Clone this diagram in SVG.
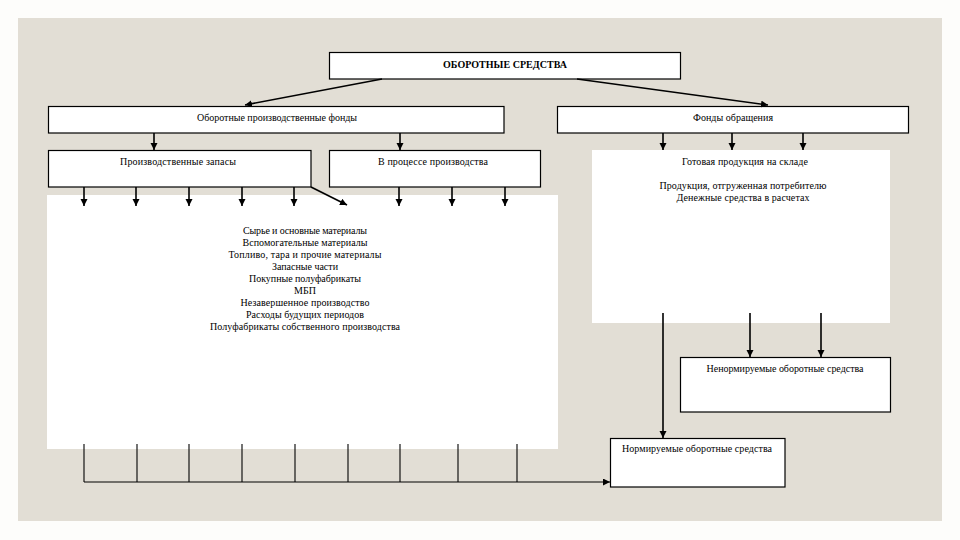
<svg xmlns="http://www.w3.org/2000/svg" width="960" height="540" viewBox="0 0 960 540">
<style>
.box{fill:#ffffff;stroke:#000000;stroke-width:1.2}
.area{fill:#ffffff;stroke:none}
.t{font-family:"Liberation Serif","DejaVu Serif",serif;font-size:10px;fill:#000000;text-anchor:middle}
.b{font-weight:bold}
.c{stroke:#000000;stroke-width:1.6;fill:none}
.thin{stroke:#000000;stroke-width:1.1;fill:none}
</style>
<defs>
<marker id="ah" markerUnits="userSpaceOnUse" markerWidth="8" markerHeight="8" refX="7" refY="3.5" orient="auto">
<path d="M0,0 L7,3.5 L0,7 z" fill="#000000"/>
</marker>
</defs>
<rect x="0" y="0" width="960" height="540" fill="#fdfdfb"/>
<rect x="18" y="18" width="924" height="503" fill="#e2ded5"/>

<g id="node-main">
<rect class="box" x="329.5" y="52.5" width="351" height="26.5"/>
<text class="t b" x="505" y="67.5" textLength="124">ОБОРОТНЫЕ СРЕДСТВА</text>
</g>
<g id="node-prod-funds">
<rect class="box" x="48.5" y="106.5" width="455.5" height="26.5"/>
<text class="t" x="277" y="120.5" textLength="160">Оборотные производственные фонды</text>
</g>
<g id="node-circ-funds">
<rect class="box" x="557.5" y="106.5" width="351" height="26.5"/>
<text class="t" x="733" y="120.5" textLength="80">Фонды обращения</text>
</g>
<g id="node-stocks">
<rect class="box" x="48.5" y="150.5" width="262.5" height="36.5"/>
<text class="t" x="178" y="165" textLength="116">Производственные запасы</text>
</g>
<g id="node-in-process">
<rect class="box" x="329.5" y="150.5" width="211" height="36.5"/>
<text class="t" x="433" y="165" textLength="110">В процессе производства</text>
</g>
<g id="node-circ-list">
<rect class="area" x="592" y="150" width="298" height="173"/>
<text class="t" x="745" y="165" textLength="126">Готовая продукция на складе</text>
<text class="t" x="743" y="188.5" textLength="167">Продукция, отгруженная потребителю</text>
<text class="t" x="743" y="201" textLength="133">Денежные средства в расчетах</text>
</g>
<g id="node-stock-list">
<rect class="area" x="47" y="195" width="511" height="254"/>
<text class="t" x="305" y="234" textLength="124">Сырье и основные материалы</text>
<text class="t" x="305" y="246" textLength="125">Вспомогательные материалы</text>
<text class="t" x="305" y="258" textLength="153">Топливо, тара и прочие материалы</text>
<text class="t" x="305" y="270" textLength="66">Запасные части</text>
<text class="t" x="305" y="282" textLength="112">Покупные полуфабрикаты</text>
<text class="t" x="305" y="294">МБП</text>
<text class="t" x="305" y="306" textLength="129">Незавершенное производство</text>
<text class="t" x="305" y="318" textLength="118">Расходы будущих периодов</text>
<text class="t" x="305" y="330" textLength="190">Полуфабрикаты собственного производства</text>
</g>
<g id="node-non-normed">
<rect class="box" x="680.5" y="357.5" width="210" height="54.5"/>
<text class="t" x="785" y="372" textLength="157">Ненормируемые оборотные средства</text>
</g>
<g id="node-normed">
<rect class="box" x="610.5" y="438.5" width="174.5" height="48.5"/>
<text class="t" x="697" y="452" textLength="150">Нормируемые оборотные средства</text>
</g>

<g id="connectors">
<line class="c" x1="382" y1="79" x2="245" y2="105" marker-end="url(#ah)"/>
<line class="c" x1="577" y1="79" x2="768" y2="105" marker-end="url(#ah)"/>
<line class="c" x1="154" y1="133" x2="154" y2="150" marker-end="url(#ah)"/>
<line class="c" x1="400" y1="133" x2="400" y2="150" marker-end="url(#ah)"/>
<line class="c" x1="663" y1="133" x2="663" y2="150" marker-end="url(#ah)"/>
<line class="c" x1="732" y1="133" x2="732" y2="150" marker-end="url(#ah)"/>
<line class="c" x1="803" y1="133" x2="803" y2="150" marker-end="url(#ah)"/>
<line class="c" x1="84" y1="187" x2="84" y2="206" marker-end="url(#ah)"/>
<line class="c" x1="136" y1="187" x2="136" y2="206" marker-end="url(#ah)"/>
<line class="c" x1="189" y1="187" x2="189" y2="206" marker-end="url(#ah)"/>
<line class="c" x1="242" y1="187" x2="242" y2="206" marker-end="url(#ah)"/>
<line class="c" x1="294" y1="187" x2="294" y2="206" marker-end="url(#ah)"/>
<line class="c" x1="311" y1="187" x2="347" y2="205" marker-end="url(#ah)"/>
<line class="c" x1="399" y1="187" x2="399" y2="206" marker-end="url(#ah)"/>
<line class="c" x1="452" y1="187" x2="452" y2="206" marker-end="url(#ah)"/>
<line class="c" x1="505" y1="187" x2="505" y2="206" marker-end="url(#ah)"/>
<line class="c" x1="663" y1="313" x2="663" y2="438" marker-end="url(#ah)"/>
<line class="c" x1="750" y1="313" x2="750" y2="357" marker-end="url(#ah)"/>
<line class="c" x1="821" y1="313" x2="821" y2="357" marker-end="url(#ah)"/>
<line class="thin" x1="84" y1="444" x2="84" y2="482"/>
<line class="thin" x1="137" y1="444" x2="137" y2="482"/>
<line class="thin" x1="189" y1="444" x2="189" y2="482"/>
<line class="thin" x1="242" y1="444" x2="242" y2="482"/>
<line class="thin" x1="295" y1="444" x2="295" y2="482"/>
<line class="thin" x1="348" y1="444" x2="348" y2="482"/>
<line class="thin" x1="400" y1="444" x2="400" y2="482"/>
<line class="thin" x1="458" y1="444" x2="458" y2="482"/>
<line class="thin" x1="517" y1="444" x2="517" y2="482"/>
<line class="thin" x1="84" y1="482" x2="610" y2="482" marker-end="url(#ah)"/>
</g>
</svg>
